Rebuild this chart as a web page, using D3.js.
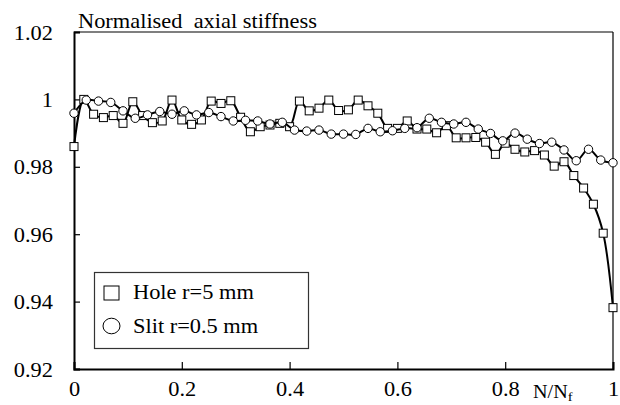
<!DOCTYPE html>
<html><head><meta charset="utf-8">
<script src="https://cdn.jsdelivr.net/npm/d3@7"></script>
<style>
html,body{margin:0;padding:0;background:#fff;}
svg text{font-family:"Times New Roman",Times,"Liberation Serif",Tinos,serif;fill:#000;}
</style></head>
<body><svg id="c" width="620" height="405"></svg>
<script>
const holeValues = [0.986,1.000,0.9956,0.9946,0.9952,0.9929,0.9993,0.9952,0.9931,0.9936,
0.9998,0.9939,0.9926,0.9939,0.9995,0.9988,0.9996,0.9947,0.9904,0.9919,
0.9924,0.9929,0.9919,0.9995,0.9966,0.9974,0.9998,0.9967,0.9969,0.9998,
0.9981,0.9959,0.9914,0.9914,0.9936,0.9912,0.9912,0.9901,0.9922,0.9886,
0.9886,0.9887,0.9873,0.9837,0.987,0.9852,0.9844,0.9848,0.9835,0.9802,
0.9815,0.9774,0.9737,0.9689,0.9603,0.9382];
const slitValues = [0.9959,0.9998,0.9995,0.9991,0.9966,0.9944,0.9954,0.9964,0.9956,0.9966,
0.9954,0.9961,0.9949,0.9936,0.9938,0.9936,0.9927,0.9932,0.9909,0.9906,
0.9909,0.9897,0.9897,0.9896,0.9914,0.9904,0.9907,0.9914,0.9916,0.9944,
0.9932,0.9927,0.9932,0.9912,0.9899,0.9877,0.9900,0.9882,0.9869,0.9873,
0.985,0.9818,0.9852,0.982,0.9812];
const holeN = holeValues.map((v,i)=>i/(holeValues.length-1));
const slitN = slitValues.map((v,i)=>i/(slitValues.length-1));
const xTicks = [0,0.2,0.4,0.6,0.8,1];
const xTickLabels = ["0","0.2","0.4","0.6","0.8","1"];
const yTicks = [0.92,0.94,0.96,0.98,1,1.02];
const yTickLabels = ["0.92","0.94","0.96","0.98","1","1.02"];
const seriesNames = ["Hole r=5 mm","Slit r=0.5 mm"];
const titleText = "Normalised  axial stiffness";

const SX = 1.12, FS = 20;
const svg = d3.select("#c");
const L=74, R=613, T=32, B=369;
const x = d3.scaleLinear().domain([0,1]).range([L,R]);
const y = d3.scaleLinear().domain([0.92,1.02]).range([B,T]);

svg.append("line").attr("x1",L).attr("x2",R).attr("y1",T).attr("y2",T).attr("stroke","#000").attr("stroke-width",1.2);
svg.append("line").attr("x1",R).attr("x2",R).attr("y1",T).attr("y2",B).attr("stroke","#000").attr("stroke-width",1.2);

const gy = svg.append("g").attr("transform",`translate(${L},0)`)
  .call(d3.axisLeft(y).tickValues(yTicks).tickSize(-6).tickPadding(0)
    .tickFormat((d,i)=>yTickLabels[i]));
const gx = svg.append("g").attr("transform",`translate(0,${B})`)
  .call(d3.axisBottom(x).tickValues(xTicks).tickSize(-7).tickPadding(0)
    .tickFormat((d,i)=>xTickLabels[i]));
[gy,gx].forEach(g=>{
  g.select(".domain").attr("stroke","#000").attr("stroke-width",2);
  g.selectAll(".tick line").attr("stroke","#000").attr("stroke-width",1.2);
  g.attr("font-family",null).attr("font-size",null);
});
gy.selectAll(".tick text").attr("x",null).attr("dy",null).attr("text-anchor","end")
  .style("font-size",FS+"px").attr("transform",`translate(-21,7) scale(${SX},1)`);
gx.selectAll(".tick text").attr("y",null).attr("dy",null).attr("text-anchor","middle")
  .style("font-size",FS+"px").attr("transform",`translate(0,27) scale(${SX},1)`);

svg.append("text").attr("transform",`translate(78,28) scale(${SX},1)`)
  .style("font-size",FS+"px").style("white-space","pre").text(titleText);
const xl = svg.append("text").attr("transform",`translate(533,398) scale(${SX},1)`).style("font-size","18px");
xl.append("tspan").text("N/N");
xl.append("tspan").attr("dy",3).style("font-size","13px").text("f");

const line = d3.line().curve(d3.curveCatmullRom.alpha(0.5));
const holePts = holeValues.map((v,i)=>[x(holeN[i]),y(v)]);
const slitPts = slitValues.map((v,i)=>[x(slitN[i]),y(v)]);

svg.append("path").attr("d",line(holePts)).attr("fill","none").attr("stroke","#000").attr("stroke-width",2);
svg.selectAll("rect.h").data(holePts).join("rect").attr("class","h")
  .attr("x",d=>d[0]-4).attr("y",d=>d[1]-4).attr("width",8).attr("height",8)
  .attr("fill","#fff").attr("stroke","#000").attr("stroke-width",1);
svg.append("path").attr("d",line(slitPts)).attr("fill","none").attr("stroke","#000").attr("stroke-width",2);
svg.selectAll("circle.s").data(slitPts).join("circle").attr("class","s")
  .attr("cx",d=>d[0]).attr("cy",d=>d[1]).attr("r",4.2)
  .attr("fill","#fff").attr("stroke","#000").attr("stroke-width",1);

const lg = svg.append("g");
lg.append("rect").attr("x",94.5).attr("y",272.5).attr("width",214).attr("height",76)
  .attr("fill","#fff").attr("stroke","#333").attr("stroke-width",1.2);
lg.append("rect").attr("x",104).attr("y",286).attr("width",15).attr("height",14)
  .attr("fill","#fff").attr("stroke","#000").attr("stroke-width",1);
lg.append("ellipse").attr("cx",111.5).attr("cy",326).attr("rx",8.5).attr("ry",7.8)
  .attr("fill","#fff").attr("stroke","#000").attr("stroke-width",1);
lg.append("text").attr("transform",`translate(133,299) scale(${SX},1)`).style("font-size",FS+"px").text(seriesNames[0]);
lg.append("text").attr("transform",`translate(133,333) scale(${SX},1)`).style("font-size",FS+"px").text(seriesNames[1]);
</script></body></html>
